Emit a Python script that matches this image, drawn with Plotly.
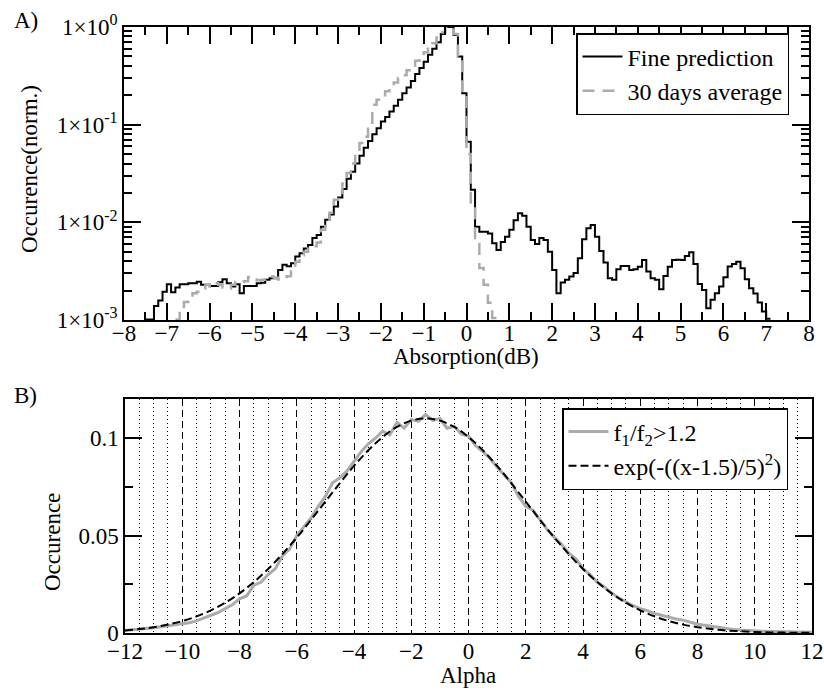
import numpy as np
import plotly.graph_objects as go

W, H = 824, 691
FONT = "Liberation Serif"

# ---------------- Panel A data (0.1 dB bins) ----------------
bin_width = 0.1
fine_start = -7.5
fine_prediction = [
    0.00101, 0.00101, 0.00139, 0.00158, 0.00195, 0.00232, 0.00192, 0.00215, 0.00232, 0.00232,
    0.00238, 0.00238, 0.00247, 0.00229, 0.00229, 0.00223, 0.00223, 0.00243, 0.00261, 0.00238,
    0.00220, 0.00232, 0.00188, 0.00223, 0.00223, 0.00223, 0.00238, 0.00240, 0.00258, 0.00268,
    0.00268, 0.00326, 0.00367, 0.00356, 0.00381, 0.00446, 0.00482, 0.00540, 0.00587, 0.0069,
    0.0074, 0.0090, 0.0106, 0.0120, 0.0145, 0.0180, 0.0220, 0.0280, 0.0330, 0.0400,
    0.0480, 0.0580, 0.0680, 0.0800, 0.0920, 0.108, 0.120, 0.136, 0.156, 0.180,
    0.210, 0.240, 0.280, 0.330, 0.380, 0.440, 0.520, 0.600, 0.700, 0.850,
    1.0, 1.0, 0.83, 0.50, 0.21, 0.067, 0.0215, 0.0090, 0.0080, 0.0080,
    0.0077, 0.0061, 0.0052, 0.0063, 0.0071, 0.0084, 0.0105, 0.0124, 0.0117, 0.0090,
    0.0066, 0.0060, 0.0069, 0.0066, 0.0050, 0.00326, 0.00188, 0.00242, 0.00258, 0.00279,
    0.00302, 0.00429, 0.0067, 0.0087, 0.0094, 0.0071, 0.0051, 0.00387, 0.00268, 0.00258,
    0.00331, 0.00358, 0.00358, 0.00326, 0.00330, 0.00350, 0.00412, 0.00313, 0.00268, 0.00258,
    0.00207, 0.00283, 0.00350, 0.00412, 0.00415, 0.00412, 0.00453, 0.00494, 0.00375, 0.00234,
    0.00203, 0.00132, 0.00161, 0.00188, 0.00220, 0.00274, 0.00352, 0.00375, 0.00396, 0.00339,
    0.00261, 0.00211, 0.00187, 0.00151, 0.00122, 0.00103,
]
avg_start = -6.8
days30_average = [
    0.00101, 0.00124, 0.00153, 0.00165, 0.00188, 0.00195, 0.00200, 0.00229, 0.00220, 0.00238,
    0.00230, 0.00215, 0.00210, 0.00230, 0.00247, 0.00245, 0.00250, 0.00276, 0.00260, 0.00255,
    0.00258, 0.00260, 0.00279, 0.00270, 0.00260, 0.00260, 0.00280, 0.00313, 0.00396, 0.00460,
    0.00500, 0.00540, 0.00570, 0.00620, 0.00840, 0.0100, 0.0125, 0.0170, 0.0200, 0.0250,
    0.0320, 0.0400, 0.0500, 0.0650, 0.0750, 0.100, 0.160, 0.180, 0.200, 0.220,
    0.250, 0.270, 0.300, 0.320, 0.360, 0.400, 0.450, 0.500, 0.550, 0.620,
    0.680, 0.780, 0.880, 1.0, 0.95, 0.85, 0.50, 0.20, 0.050, 0.015,
    0.0060, 0.0034, 0.0023, 0.0015, 0.00105,
]
logA_ticks = [1e-3, 1e-2, 1e-1, 1]
logA_text = ["1×10<sup>-3</sup>", "1×10<sup>-2</sup>", "1×10<sup>-1</sup>", "1×10<sup>0</sup>"]
logA_minor = [m * d for d in (1e-3, 1e-2, 1e-1) for m in range(2, 10)]

# ---------------- Panel B data ----------------
alpha_step = 0.25
alpha_start = -12
f1f2_values = [
    0.0013, 0.0016, 0.0019, 0.0022, 0.0027, 0.0032, 0.0036, 0.0042, 0.0048, 0.0053,
    0.0062, 0.0075, 0.0092, 0.0105, 0.0125, 0.0145, 0.0175, 0.0190, 0.0245, 0.0260,
    0.0300, 0.0330, 0.0395, 0.0430, 0.0500, 0.0545, 0.0590, 0.0650, 0.0700, 0.0770,
    0.0795, 0.0830, 0.0880, 0.0930, 0.0970, 0.1000, 0.1035, 0.1015, 0.1080, 0.1050,
    0.1095, 0.1085, 0.1120, 0.1090, 0.1100, 0.1050, 0.1060, 0.1020, 0.1010, 0.0960,
    0.0930, 0.0895, 0.0850, 0.0810, 0.0770, 0.0700, 0.0650, 0.0630, 0.0580, 0.0530,
    0.0490, 0.0455, 0.0410, 0.0380, 0.0330, 0.0300, 0.0260, 0.0235, 0.0205, 0.0180,
    0.0160, 0.0140, 0.0125, 0.0115, 0.0100, 0.0090, 0.0082, 0.0072, 0.0066, 0.0055,
    0.0045, 0.0040, 0.0034, 0.0028, 0.0022, 0.0018, 0.0015, 0.0012, 0.0010, 0.0009,
    0.0008, 0.0007, 0.0006, 0.0005, 0.0005, 0.0004, 0.0004,
]
fit_step = 0.5
fit_start = -12
fit_values = [
    0.00134, 0.00201, 0.00298, 0.00431, 0.00611, 0.00850, 0.0116, 0.0155, 0.0203, 0.0261,
    0.0328, 0.0405, 0.0489, 0.0580, 0.0674, 0.0767, 0.0857, 0.0937, 0.1005, 0.1057,
    0.1089, 0.1100, 0.1089, 0.1057, 0.1005, 0.0937, 0.0857, 0.0767, 0.0674, 0.0580,
    0.0489, 0.0405, 0.0328, 0.0261, 0.0203, 0.0155, 0.0116, 0.0085, 0.0061, 0.0043,
    0.0030, 0.0020, 0.0013, 0.0009, 0.0005, 0.0003, 0.0002, 0.0001, 0.0001,
]


def step_xy(start, width, vals):
    n = len(vals)
    x = [round(start + width * i, 3) for i in range(n + 1)]
    y = list(vals) + [vals[-1]]
    return x, y


fx, fy = step_xy(fine_start, bin_width, fine_prediction)
ax_, ay_ = step_xy(avg_start, bin_width, days30_average)
bx = [round(alpha_start + alpha_step * i, 3) for i in range(len(f1f2_values))]
gx = [round(fit_start + fit_step * i, 3) for i in range(len(fit_values))]

fig = go.Figure()
fig.add_trace(go.Scatter(x=fx, y=fy, mode="lines", line=dict(color="black", width=2, shape="hv"),
                         name="Fine prediction", xaxis="x", yaxis="y", legend="legend"))
fig.add_trace(go.Scatter(x=ax_, y=ay_, mode="lines",
                         line=dict(color="#ababab", width=2.5, shape="hv", dash="12px,8px"),
                         name="30 days average", xaxis="x", yaxis="y", legend="legend"))
fig.add_trace(go.Scatter(x=bx, y=f1f2_values, mode="lines", line=dict(color="#ababab", width=3),
                         name="f<sub>1</sub>/f<sub>2</sub>&gt;1.2", xaxis="x2", yaxis="y2", legend="legend2"))
fig.add_trace(go.Scatter(x=gx, y=fit_values, mode="lines",
                         line=dict(color="black", width=2, dash="8px,4px", shape="spline"),
                         name="exp(-((x-1.5)/5)<sup>2</sup>)", xaxis="x2", yaxis="y2", legend="legend2"))

def px(v):
    return v / W

def py(v):
    return 1 - v / H

tickfont = dict(family=FONT, size=23, color="black")
common = dict(showline=True, linecolor="black", linewidth=1.5, mirror="ticks", zeroline=False,
              tickfont=tickfont, automargin=False, tickcolor="black", tickwidth=1.5)

fig.update_layout(
    width=W, height=H, margin=dict(l=0, r=0, t=0, b=0), autosize=False,
    plot_bgcolor="white", paper_bgcolor="white",
    font=dict(family=FONT, size=23, color="black"),
    xaxis=dict(domain=[px(124), px(809)], range=[-8, 8], dtick=1, tick0=0, ticks="inside", ticklen=17,
               showgrid=False, anchor="y", ticklabelstandoff=-8,
               minor=dict(dtick=0.5, tick0=0, ticks="inside", ticklen=8, tickcolor="black", tickwidth=1.5),
               **common),
    yaxis=dict(domain=[py(320), py(27)], type="log", range=[-3, 0], tickmode="array",
               tickvals=logA_ticks, ticktext=logA_text, ticks="inside", ticklen=17, showgrid=False,
               anchor="x",
               minor=dict(tickmode="array", tickvals=logA_minor, ticks="inside", ticklen=8,
                          tickcolor="black", tickwidth=1.5, showgrid=False),
               **common),
    xaxis2=dict(domain=[px(125), px(812)], range=[-12, 12], dtick=2, tick0=0, ticks="",
                showgrid=True, gridcolor="black", gridwidth=1, griddash="7px,4px", anchor="y2",
                ticklabelstandoff=-3,
                minor=dict(dtick=0.5, tick0=0, showgrid=True, gridcolor="black", gridwidth=1,
                           griddash="1px,3px"),
                **common),
    yaxis2=dict(domain=[py(633), py(399)], range=[0, 0.12], tickmode="array", tickvals=[0, 0.05, 0.1],
                ticktext=["0", "0.05", "0.1"], ticks="inside", ticklen=17, showgrid=False,
                anchor="x2",
                minor=dict(tickmode="array", tickvals=[0.025, 0.075], ticks="inside", ticklen=8,
                           tickcolor="black", tickwidth=1.5),
                **common),
    legend=dict(x=px(576), y=py(33), xanchor="left", yanchor="top", bgcolor="white",
                bordercolor="black", borderwidth=1.5, font=dict(family=FONT, size=24),
                tracegroupgap=0, itemwidth=40),
    legend2=dict(x=px(562), y=py(408), xanchor="left", yanchor="top", bgcolor="white",
                 bordercolor="black", borderwidth=1.5, font=dict(family=FONT, size=24),
                 tracegroupgap=0, itemwidth=40),
    showlegend=True,
)

ann = [
    dict(text="A)", x=px(12), y=py(20)),
    dict(text="B)", x=px(12), y=py(395)),
    dict(text="Absorption(dB)", x=px(466), y=py(356), xanchor="center"),
    dict(text="Alpha", x=px(468), y=py(675), xanchor="center"),
    dict(text="Occurence(norm.)", x=px(30), y=py(169), xanchor="center", textangle=-90),
    dict(text="Occurence", x=px(52), y=py(542), xanchor="center", textangle=-90),
]
for a in ann:
    a.setdefault("xanchor", "left")
    fig.add_annotation(xref="paper", yref="paper", showarrow=False, yanchor="middle",
                       font=dict(family=FONT, size=23, color="black"), **a)

fig.write_html("out.html", config={"displayModeBar": False},
               post_script="document.body.style.margin='0px';document.body.style.padding='0px';")
